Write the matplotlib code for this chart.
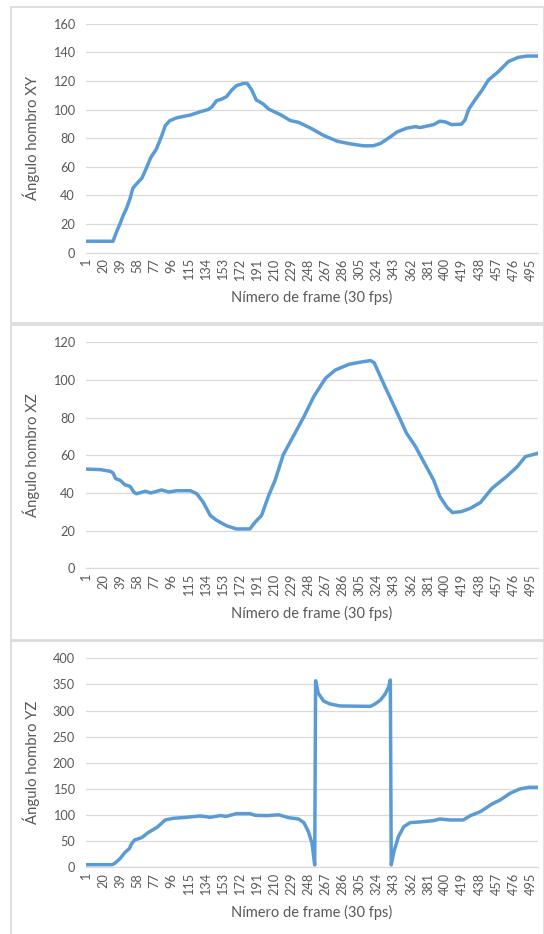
import matplotlib.pyplot as plt
from matplotlib.patches import Rectangle

# Shoulder angle per frame
frames_xy = [1, 31, 35, 39, 42, 46, 50, 53, 57, 63, 68, 73, 79, 85, 89, 94, 102, 117, 128,
             137, 141, 146, 152, 157, 163, 168, 176, 180, 185, 190, 198, 204, 217, 228, 237,
             250, 265, 280, 294, 309, 320, 328, 339, 346, 357, 367, 372, 387, 394, 400,
             407, 418, 422, 426, 433, 441, 448, 459, 470, 481, 491, 503]
angle_xy = [8, 8, 14.7, 20.5, 25.6, 31, 38, 45, 48, 52, 59, 66.6, 72.2, 81.5, 88.7, 92.2,
            94.3, 96.2, 98.5, 100.1, 102, 106.2, 107.4, 109, 113.7, 116.7, 118.3, 118.3,
            113.8, 106.8, 103.8, 100.3, 96.4, 92.3, 91.1, 87.2, 81.9, 77.9, 76.1, 74.7, 74.7,
            76.3, 80.9, 84.2, 87, 88.1, 87.4, 89.5, 91.9, 91.4, 89.5, 89.8, 92.8, 100.2,
            106.7, 113.7, 120.7, 126.5, 133.5, 136.5, 137.4, 137.4]

frames_xz = [1, 17, 28, 31, 34, 39, 44, 50, 54, 57, 67, 73, 85, 93, 102, 117, 124, 131,
             139, 146, 157, 168, 183, 189, 196, 204, 211, 220, 231, 243, 254, 267, 278, 293,
             305, 317, 321, 333, 346, 357, 367, 376, 387, 394, 402, 408, 418, 428, 439,
             452, 468, 480, 489, 503]
angle_xz = [52.7, 52.4, 51.5, 50.6, 47.6, 46.7, 44.4, 43.5, 40.5, 39.6, 40.9, 40, 41.6,
            40.5, 41.2, 41.2, 39.6, 35.2, 28.1, 25.5, 22.6, 20.9, 20.9, 24.6, 28.1, 38.8,
            46.7, 60.2, 69.9, 80.5, 91.2, 100.9, 105.3, 108.3, 109.4, 110.3, 109.2, 96.5,
            83.2, 71.7, 64.6, 56.6, 46.9, 38.1, 32.4, 29.6, 30.1, 31.9, 34.9, 42.5, 48.7,
            54, 59.3, 61.1]

frames_yz = [1, 30, 33, 39, 44, 49, 52, 55, 63, 70, 80, 89, 98, 113, 128, 139, 150, 157,
             168, 183, 189, 202, 215, 226, 237, 243, 248, 252, 255, 256, 259, 265, 272, 283,
             317, 322, 328, 333, 337, 339, 340, 343, 348, 354, 361, 372, 387, 394, 405,
             420, 428, 439, 452, 461, 472, 483, 493, 503]
angle_yz = [5, 5, 7.7, 17, 28, 35.7, 46, 52.3, 56.8, 66.4, 76.6, 90.6, 93.8, 95.7, 98.3,
            95.7, 98.9, 97.6, 102.7, 102.7, 99.5, 98.9, 100.5, 95, 92.5, 85.5, 68.3, 46,
            4.5, 357, 333, 318, 312.6, 308.8, 308, 312.6, 320, 331, 344.5, 358.6, 4.5, 30,
            58.7, 77.8, 85.5, 86.8, 89.3, 92.5, 90.6, 90.6, 98.9, 106.5, 121.2, 128.9,
            141.6, 150, 153.1, 153.1]

panels = [
    (frames_xy, angle_xy, "Ángulo hombro XY", 160, 20),
    (frames_xz, angle_xz, "Ángulo hombro XZ", 120, 20),
    (frames_yz, angle_yz, "Ángulo hombro YZ", 400, 50),
]
tick_frames = list(range(1, 504, 19))

W, H = 544, 934
axes_px = [(86, 23.7, 538, 252.7), (86, 342.3, 538, 568.3), (86, 658.3, 538, 867.3)]
boxes_px = [(10.5, 7, 544, 323), (10.5, 325, 544, 640), (10.5, 641, 544, 940)]
xlabel_y = [297.5, 613.5, 912]

LINE = '#5B9BD5'
GRID = '#D9D9D9'
TXT = '#595959'
plt.rcParams['font.family'] = ['Lato', 'DejaVu Sans']

fig = plt.figure(figsize=(W / 100, H / 100), dpi=100)
fig.patch.set_facecolor('white')

for (x0, y0, x1, y1) in boxes_px:
    fig.patches.append(Rectangle((x0 / W, 1 - y1 / H), (x1 - x0) / W, (y1 - y0) / H,
                                 transform=fig.transFigure, fill=False,
                                 edgecolor=GRID, linewidth=1.2))

for (fr, ang, ylab, ymax, ystep), (l, t, r, b), xly in zip(panels, axes_px, xlabel_y):
    ax = fig.add_axes([l / W, 1 - b / H, (r - l) / W, (b - t) / H])
    ax.plot(fr, ang, color=LINE, linewidth=2.5, solid_joinstyle='round')
    ax.set_xlim(1, 503)
    ax.set_ylim(0, ymax)
    ax.set_yticks(range(0, ymax + 1, ystep))
    ax.set_xticks(tick_frames)
    ax.set_xticklabels([str(f) for f in tick_frames], rotation=90)
    ax.tick_params(axis='both', length=0, labelsize=9.2, labelcolor=TXT)
    ax.tick_params(axis='y', pad=8)
    ax.tick_params(axis='x', pad=4)
    ax.grid(axis='y', color=GRID, linewidth=0.9)
    ax.set_axisbelow(True)
    for s in ['top', 'right', 'left']:
        ax.spines[s].set_visible(False)
    ax.spines['bottom'].set_color(GRID)
    ax.spines['bottom'].set_linewidth(0.9)
    ax.set_ylabel(ylab, fontsize=10.7, color=TXT)
    ax.yaxis.set_label_coords(-(l - 40) / (r - l), 0.5)
    fig.text((l + r) / 2 / W, 1 - xly / H, "Nímero de frame (30 fps)", fontsize=10.5,
             color=TXT, ha='center', va='center')

fig.savefig('out.png', dpi=100)
